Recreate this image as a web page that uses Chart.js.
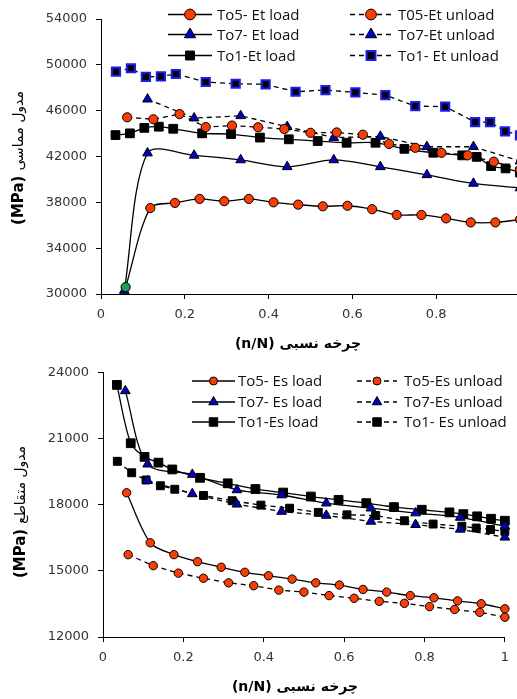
<!DOCTYPE html>
<html>
<head>
<meta charset="utf-8">
<script src="https://cdn.jsdelivr.net/npm/chart.js@4.4.0/dist/chart.umd.min.js"></script>
<style>
  html, body { margin: 0; padding: 0; background: #fff; overflow: hidden; width: 517px; height: 699px; }
  canvas { position: absolute; left: 0; }
  #top { top: 0; width: 540px; height: 356px; }
  #bottom { top: 356px; width: 517px; height: 343px; }
</style>
</head>
<body>
<canvas id="top" width="540" height="356"></canvas>
<canvas id="bottom" width="517" height="343"></canvas>
<script>
// n/N positions for each test series
const xTo5Load   = [0.0588, 0.1176, 0.1765, 0.2353, 0.2941, 0.3529, 0.4118, 0.4706, 0.5294, 0.5882, 0.6471, 0.7059, 0.7647, 0.8235, 0.8824, 0.9412, 1.0];
const xTo5Unload = [0.0625, 0.125, 0.1875, 0.25, 0.3125, 0.375, 0.4375, 0.5, 0.5625, 0.625, 0.6875, 0.75, 0.8125, 0.875, 0.9375, 1.0];
const xTo7Load   = [0.0556, 0.1111, 0.2222, 0.3333, 0.4444, 0.5556, 0.6667, 0.7778, 0.8889, 1.0];
const xTo7Unload = [0.1111, 0.2222, 0.3333, 0.4444, 0.5556, 0.6667, 0.7778, 0.8889, 1.0];
const xTo1Load   = [0.0345, 0.069, 0.1034, 0.1379, 0.1724, 0.2414, 0.3103, 0.3793, 0.4483, 0.5172, 0.5862, 0.6552, 0.7241, 0.7931, 0.8621, 0.8966, 0.931, 0.9655, 1.0];
const xTo1Unload = [0.0357, 0.0714, 0.1071, 0.1429, 0.1786, 0.25, 0.3214, 0.3929, 0.4643, 0.5357, 0.6071, 0.6786, 0.75, 0.8214, 0.8929, 0.9286, 0.9643, 1.0];

// tangent modulus Et (MPa)
const etTo5Load   = [30600, 37500, 37950, 38300, 38100, 38300, 38000, 37800, 37650, 37700, 37400, 36900, 36900, 36600, 36250, 36250, 36500];
const etTo5Unload = [45420, 45250, 45700, 44570, 44700, 44550, 44400, 44070, 44100, 43900, 43100, 42760, 42320, 42100, 41550, 40870];
const etTo7Load   = [30300, 42300, 42100, 41700, 41100, 41700, 41100, 40400, 39650, 39250];
const etTo7Unload = [47000, 45350, 45550, 44600, 43650, 43750, 42850, 42850, 41600];
const etTo1Load   = [43870, 44020, 44500, 44600, 44420, 44020, 43960, 43650, 43500, 43350, 43200, 43200, 42670, 42330, 42100, 41970, 41160, 40960, 40600];
const etTo1Unload = [49400, 49700, 48950, 49000, 49200, 48500, 48350, 48300, 47650, 47800, 47600, 47350, 46400, 46350, 45000, 45000, 44200, 43850];

// secant modulus Es (MPa)
const esTo5Load   = [18550, 16280, 15740, 15420, 15170, 14940, 14780, 14630, 14460, 14360, 14160, 14040, 13880, 13780, 13640, 13510, 13280];
const esTo5Unload = [15740, 15240, 14900, 14670, 14460, 14330, 14130, 14040, 13880, 13760, 13620, 13530, 13380, 13250, 13120, 12900];
const esTo7Load   = [23180, 19850, 19380, 18680, 18450, 18080, 17850, 17630, 17430, 17030];
const esTo7Unload = [19100, 18500, 18030, 17700, 17520, 17250, 17100, 16890, 16530];
const esTo1Load   = [23450, 20800, 20180, 19920, 19610, 19230, 18980, 18720, 18560, 18380, 18230, 18080, 17900, 17780, 17660, 17580, 17480, 17370, 17280];
const esTo1Unload = [19980, 19460, 19130, 18870, 18710, 18430, 18190, 17990, 17850, 17660, 17550, 17520, 17280, 17130, 17030, 16950, 16880, 16800];

const topLabels    = ['To5- Et load', 'T05-Et unload', 'To7- Et load', 'To7-Et unload', 'To1-Et load', 'To1- Et unload'];
const bottomLabels = ['To5- Es load', 'To5-Es unload', 'To7- Es load', 'To7-Es unload', 'To1-Es load', 'To1- Es unload'];

// tick values and labels
const xTicks       = [0, 0.2, 0.4, 0.6, 0.8, 1];
const xTickLabels  = ['0', '0.2', '0.4', '0.6', '0.8', '1'];
const etTicks      = [30000, 34000, 38000, 42000, 46000, 50000, 54000];
const etTickLabels = ['30000', '34000', '38000', '42000', '46000', '50000', '54000'];
const esTicks      = [12000, 15000, 18000, 21000, 24000];
const esTickLabels = ['12000', '15000', '18000', '21000', '24000'];

const RED = '#ff3c00';
const BLUE = '#0000c8';

Chart.defaults.font.family = "'DejaVu Sans', sans-serif";
Chart.defaults.font.size = 13;
Chart.defaults.color = '#333';

function pts(xs, ys) {
    return xs.map((x, i) => ({ x: x, y: ys[i] }));
}

function series(label, xs, ys, mark, dashed, o) {
    return Object.assign({
        label: label,
        data: pts(xs, ys),
        borderColor: '#000',
        borderWidth: 1.3,
        borderDash: dashed ? [5, 4] : [],
        tension: dashed ? 0 : 0.3,
        pointStyle: mark.style,
        pointRadius: mark.r,
        pointHoverRadius: mark.r,
        pointBackgroundColor: mark.bg,
        pointBorderColor: mark.bc || '#000',
        pointBorderWidth: mark.bw || 1,
        legendFill: mark.bg,
        fill: false,
        clip: false
    }, o || {});
}

// draws the two-column legend with line samples
const legendPlugin = {
    id: 'lineLegend',
    afterDraw(chart, args, opts) {
        const ctx = chart.ctx;
        ctx.save();
        chart.data.datasets.forEach((ds, i) => {
            const col = i % 2, row = Math.floor(i / 2);
            const x1 = opts.lines[col][0], x2 = opts.lines[col][1];
            const y = opts.rows[row];
            ctx.strokeStyle = '#000';
            ctx.lineWidth = 1.3;
            ctx.setLineDash(ds.borderDash);
            ctx.beginPath();
            ctx.moveTo(x1, y);
            ctx.lineTo(x2, y);
            ctx.stroke();
            ctx.setLineDash([]);
            ctx.fillStyle = ds.legendFill;
            ctx.strokeStyle = ds.pointBorderColor;
            ctx.lineWidth = ds.pointBorderWidth;
            Chart.helpers.drawPoint(ctx, {
                pointStyle: ds.pointStyle,
                radius: opts.radius[ds.pointStyle],
                rotation: 0,
                borderWidth: ds.pointBorderWidth
            }, (x1 + x2) / 2, y);
            ctx.fillStyle = '#111';
            ctx.font = "15px 'Open Sans'";
            ctx.textAlign = 'left';
            ctx.textBaseline = 'middle';
            ctx.fillText(ds.label, opts.textX[col], y + 1);
        });
        ctx.restore();
    }
};

// axis titles: mixed weight Persian + units
const titlePlugin = {
    id: 'axisTitles',
    afterDraw(chart, args, o) {
        const ctx = chart.ctx;
        ctx.save();
        ctx.fillStyle = '#000';
        ctx.textBaseline = 'middle';
        ctx.textAlign = 'center';
        ctx.font = "bold 14px 'DejaVu Sans'";
        ctx.fillText(o.xText, o.xPos[0], o.xPos[1]);

        ctx.translate(o.yPos[0], o.yPos[1]);
        ctx.rotate(-Math.PI / 2);
        const unitFont = "bold 15px 'DejaVu Sans'";
        const textFont = "14px 'DejaVu Sans'";
        ctx.font = unitFont;
        const w1 = ctx.measureText(o.yUnit).width;
        ctx.font = textFont;
        const w2 = ctx.measureText(o.yText).width;
        const gap = 5;
        const x0 = -(w1 + gap + w2) / 2;
        ctx.textAlign = 'left';
        ctx.font = unitFont;
        ctx.fillText(o.yUnit, x0, 0);
        ctx.font = textFont;
        ctx.fillText(o.yText, x0 + w1 + gap, 0);
        ctx.restore();
    }
};

function axisOptions(ticks, labels, min, max, size, isX) {
    return {
        type: 'linear',
        min: min,
        max: max,
        afterBuildTicks: s => { s.ticks = ticks.map(v => ({ value: v })); },
        afterFit: s => { if (isX) { s.height = size; } else { s.width = size; } },
        grid: { drawOnChartArea: false, drawTicks: true, tickLength: 5, color: '#000' },
        border: { display: true, color: '#000', width: 1 },
        ticks: {
            padding: isX ? 8 : 9,
            maxRotation: 0,
            autoSkip: false,
            callback: (v, i) => labels[i]
        }
    };
}

function makeChart(id, datasets, cfg) {
    return new Chart(document.getElementById(id), {
        type: 'line',
        data: { datasets: datasets },
        options: {
            responsive: false,
            animation: false,
            events: [],
            layout: { padding: cfg.padding },
            scales: {
                x: axisOptions(xTicks, xTickLabels, 0, 1, cfg.xHeight, true),
                y: axisOptions(cfg.yTicks, cfg.yLabels, cfg.yMin, cfg.yMax, cfg.yWidth, false)
            },
            plugins: {
                legend: { display: false },
                tooltip: { enabled: false },
                lineLegend: cfg.legend,
                axisTitles: cfg.titles
            }
        },
        plugins: [legendPlugin, titlePlugin]
    });
}

const topCircle = { style: 'circle', r: 4.6, bg: RED };
const topTri    = { style: 'triangle', r: 5.6, bg: BLUE };
const topRect   = { style: 'rect', r: 6.2, bg: '#000' };
const topRectB  = { style: 'rect', r: 5.8, bg: '#000', bc: '#1a1aff', bw: 2 };

const topSets = [
    series(topLabels[0], xTo5Load, etTo5Load, topCircle, false,
        { pointBackgroundColor: etTo5Load.map((v, i) => i === 0 ? '#1e9e5a' : RED) }),
    series(topLabels[1], xTo5Unload, etTo5Unload, topCircle, true),
    series(topLabels[2], xTo7Load, etTo7Load, topTri, false),
    series(topLabels[3], xTo7Unload, etTo7Unload, topTri, true),
    series(topLabels[4], xTo1Load, etTo1Load, topRect, false),
    series(topLabels[5], xTo1Unload, etTo1Unload, topRectB, true)
];

makeChart('top', topSets, {
    padding: { left: 0, top: 19, right: 20, bottom: 0 },
    xHeight: 62,
    yWidth: 101,
    yTicks: etTicks, yLabels: etTickLabels, yMin: 30000, yMax: 54000,
    legend: {
        lines: [[168, 212], [350, 392]],
        textX: [217, 398],
        rows: [14.5, 34.5, 55.5],
        radius: { circle: 5.4, triangle: 6.5, rect: 6.3 }
    },
    titles: {
        xText: '(n/N) چرخه نسبی', xPos: [298, 344],
        yUnit: '(MPa)', yText: 'مدول مماسی', yPos: [19, 158]
    }
});

const botCircle = { style: 'circle', r: 4.2, bg: RED };
const botTri    = { style: 'triangle', r: 5.6, bg: BLUE };
const botRect   = { style: 'rect', r: 6.2, bg: '#000' };
const botRectS  = { style: 'rect', r: 5.6, bg: '#000' };

const bottomSets = [
    series(bottomLabels[0], xTo5Load, esTo5Load, botCircle, false),
    series(bottomLabels[1], xTo5Unload, esTo5Unload, botCircle, true),
    series(bottomLabels[2], xTo7Load, esTo7Load, botTri, false),
    series(bottomLabels[3], xTo7Unload, esTo7Unload, botTri, true),
    series(bottomLabels[4], xTo1Load, esTo1Load, botRect, false),
    series(bottomLabels[5], xTo1Unload, esTo1Unload, botRectS, true)
];

makeChart('bottom', bottomSets, {
    padding: { left: 0, top: 14, right: 12, bottom: 0 },
    xHeight: 62,
    yWidth: 103,
    yTicks: esTicks, yLabels: esTickLabels, yMin: 12000, yMax: 24000,
    legend: {
        lines: [[192, 235], [357, 397]],
        textX: [238, 404],
        rows: [25, 46, 66],
        radius: { circle: 4, triangle: 5.5, rect: 6 }
    },
    titles: {
        xText: '(n/N) چرخه نسبی', xPos: [295, 331],
        yUnit: '(MPa)', yText: 'مدول متقاطع', yPos: [21, 156]
    }
});
</script>
</body>
</html>
